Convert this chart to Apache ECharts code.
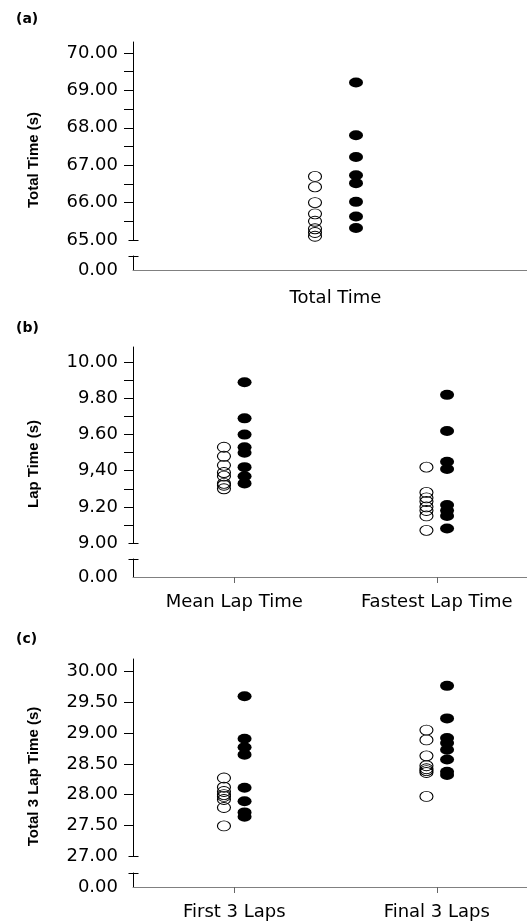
<!DOCTYPE html>
<html>
<head>
<meta charset="utf-8">
<script src="https://cdn.jsdelivr.net/npm/echarts@6/dist/echarts.min.js"></script>
<style>html,body{margin:0;padding:0;background:#fff;}#c{width:527px;height:922px;}</style>
</head>
<body>
<div id="c"></div>
<script>
// ---- Data ----
const aCategories = ['Total Time'];
const aOpen   = [66.70, 66.42, 66.00, 65.70, 65.50, 65.30, 65.20, 65.10];
const aFilled = [69.21, 67.80, 67.22, 66.73, 66.52, 66.02, 65.63, 65.32];
const aTickValues = [65, 66, 67, 68, 69, 70];
const aTickLabels = ['65.00', '66.00', '67.00', '68.00', '69.00', '70.00'];
const aMinorTicks = [65.5, 66, 66.5, 67, 67.5, 68, 68.5, 69, 69.5, 70];

const bCategories = ['Mean Lap Time', 'Fastest Lap Time'];
const bOpenMean     = [9.53, 9.48, 9.43, 9.39, 9.37, 9.33, 9.32, 9.30];
const bFilledMean   = [9.89, 9.69, 9.60, 9.53, 9.50, 9.42, 9.37, 9.33];
const bOpenFastest  = [9.42, 9.28, 9.25, 9.23, 9.20, 9.18, 9.15, 9.07];
const bFilledFastest= [9.82, 9.62, 9.45, 9.41, 9.21, 9.18, 9.15, 9.08];
const bTickValues = [9.0, 9.2, 9.4, 9.6, 9.8, 10.0];
const bTickLabels = ['9.00', '9.20', '9,40', '9.60', '9.80', '10.00'];
const bMinorTicks = [9.1, 9.2, 9.3, 9.4, 9.5, 9.6, 9.7, 9.8, 9.9, 10.0];

const cCategories = ['First 3 Laps', 'Final 3 Laps'];
const cOpenFirst   = [28.27, 28.12, 28.05, 28.00, 27.97, 27.92, 27.79, 27.49];
const cFilledFirst = [29.60, 28.91, 28.77, 28.65, 28.11, 27.89, 27.71, 27.64];
const cOpenFinal   = [29.05, 28.89, 28.63, 28.47, 28.42, 28.39, 28.36, 27.97];
const cFilledFinal = [29.77, 29.24, 28.92, 28.84, 28.73, 28.57, 28.37, 28.32];
const cTickValues = [27.0, 27.5, 28.0, 28.5, 29.0, 29.5, 30.0];
const cTickLabels = ['27.00', '27.50', '28.00', '28.50', '29.00', '29.50', '30.00'];
const cMinorTicks = [27.5, 28.0, 28.5, 29.0, 29.5, 30.0];

const zeroLabel = '0.00';
const panelLabels = ['(a)', '(b)', '(c)'];
const yTitles = ['Total Time (s)', 'Lap Time (s)', 'Total 3 Lap Time (s)'];

// ---- Build option ----
const option = {
  animation: false,
  backgroundColor: '#ffffff',
  title: [],
  grid: [],
  xAxis: [],
  yAxis: [],
  series: []
};

function pairs(cat, vals) { return vals.map(v => [cat, v]); }
function labelFmt(values, labels) {
  return function (v) {
    for (let i = 0; i < values.length; i++) {
      if (Math.abs(values[i] - v) < 1e-6) return labels[i];
    }
    return '';
  };
}

const tickFont = { fontFamily: 'DejaVu Sans', fontSize: 18, color: '#000' };

// break cap: short horizontal stroke centred on the y axis line at a given axis value
function capSeries(xIdx, yIdx, cat, value) {
  return {
    type: 'custom', xAxisIndex: xIdx, yAxisIndex: yIdx, clip: false, silent: true, z: 5,
    data: [[cat, value]],
    renderItem: function (params, api) {
      const cs = params.coordSys;
      const y = Math.round(api.coord([api.value(0), api.value(1)])[1]) + 0.5;
      const x0 = Math.round(cs.x) + 0.5;
      return {
        type: 'line',
        shape: { x1: x0 - 5, y1: y, x2: x0 + 5, y2: y },
        style: { stroke: '#000', lineWidth: 1 }
      };
    }
  };
}

function addPanel(p) {
  const gU = option.grid.length;
  option.grid.push({ left: 133, width: 405, top: p.top, height: p.height, containLabel: false, outerBoundsMode: 'none' });
  option.grid.push({ left: 133, width: 405, top: p.lowTop, height: p.lowHeight, containLabel: false, outerBoundsMode: 'none' });
  const gL = gU + 1;

  const xU = option.xAxis.length;
  const xL = xU + 1;
  option.xAxis.push({ type: 'category', gridIndex: gU, position: 'bottom', data: p.cats, boundaryGap: true, show: false });
  option.xAxis.push({
    type: 'category', gridIndex: gL, position: 'bottom', data: p.cats, boundaryGap: true,
    axisLine: { show: true, onZero: false, lineStyle: { color: '#808080', width: 1 } },
    axisTick: { show: p.xTicks, alignWithLabel: true, length: 6, lineStyle: { color: '#666' } },
    axisLabel: Object.assign({ margin: p.xMargin, interval: 0 }, tickFont),
    splitLine: { show: false }
  });

  const yU = option.yAxis.length;
  const yL = yU + 1;
  option.yAxis.push({
    type: 'value', gridIndex: gU, position: 'left', min: p.min, max: p.max,
    axisLine: { show: true, onZero: false, lineStyle: { color: '#000', width: 1 } },
    axisTick: { show: true, customValues: p.ticks, length: 9, lineStyle: { color: '#000' } },
    axisLabel: Object.assign({ customValues: p.labelValues, formatter: labelFmt(p.labelValues, p.labels), margin: 15 }, tickFont),
    splitLine: { show: false },
    name: p.yTitle, nameLocation: 'middle', nameGap: 92,
    nameTextStyle: { fontFamily: 'Liberation Sans', fontWeight: 'bold', fontSize: 15, color: '#000', padding: [0, 38, 0, 0] }
  });
  // lower segment of the broken axis
  option.yAxis.push({
    type: 'value', gridIndex: gL, position: 'left', min: 0, max: 1,
    axisLine: { show: true, onZero: false, lineStyle: { color: '#000', width: 1 } },
    axisTick: { show: false },
    axisLabel: Object.assign({ customValues: [0], formatter: () => zeroLabel, margin: 15 }, tickFont),
    splitLine: { show: false }
  });

  option.series.push({
    type: 'scatter', xAxisIndex: xU, yAxisIndex: yU, data: p.open,
    symbol: 'circle', symbolSize: [13, 10], symbolOffset: [-p.offset, 0],
    itemStyle: { color: 'rgba(0,0,0,0)', borderColor: '#000', borderWidth: 1, opacity: 1 },
    emphasis: { disabled: true }, z: 3
  });
  option.series.push({
    type: 'scatter', xAxisIndex: xU, yAxisIndex: yU, data: p.filled,
    symbol: 'circle', symbolSize: [14, 10], symbolOffset: [p.offset, 0],
    itemStyle: { color: '#000', borderWidth: 0, opacity: 1 },
    emphasis: { disabled: true }, z: 4
  });
  option.series.push(capSeries(xU, yU, p.cats[0], p.min));
  option.series.push(capSeries(xL, yL, p.cats[0], 1));

  option.title.push({
    text: p.label, left: 11, top: p.labelTop,
    textStyle: { fontFamily: 'DejaVu Sans', fontWeight: 'bold', fontSize: 14, color: '#000' }
  });
}

addPanel({
  label: panelLabels[0], labelTop: 7, yTitle: yTitles[0],
  top: 42, height: 198, lowTop: 256, lowHeight: 14,
  min: 65, max: 70.294, ticks: aMinorTicks, labelValues: aTickValues, labels: aTickLabels,
  cats: aCategories, xTicks: false, xMargin: 19, offset: 20.5,
  open: pairs(aCategories[0], aOpen), filled: pairs(aCategories[0], aFilled)
});
addPanel({
  label: panelLabels[1], labelTop: 316, yTitle: yTitles[1],
  top: 347, height: 196, lowTop: 559, lowHeight: 18,
  min: 9, max: 10.085, ticks: bMinorTicks, labelValues: bTickValues, labels: bTickLabels,
  cats: bCategories, xTicks: true, xMargin: 16, offset: 10.3,
  open: pairs(bCategories[0], bOpenMean).concat(pairs(bCategories[1], bOpenFastest)),
  filled: pairs(bCategories[0], bFilledMean).concat(pairs(bCategories[1], bFilledFastest))
});
addPanel({
  label: panelLabels[2], labelTop: 627, yTitle: yTitles[2],
  top: 659, height: 197, lowTop: 873, lowHeight: 14,
  min: 27, max: 30.207, ticks: cMinorTicks, labelValues: cTickValues, labels: cTickLabels,
  cats: cCategories, xTicks: true, xMargin: 16, offset: 10.3,
  open: pairs(cCategories[0], cOpenFirst).concat(pairs(cCategories[1], cOpenFinal)),
  filled: pairs(cCategories[0], cFilledFirst).concat(pairs(cCategories[1], cFilledFinal))
});

const chart = echarts.init(document.getElementById('c'), null, { renderer: 'canvas' });
chart.setOption(option);
</script>
</body>
</html>
